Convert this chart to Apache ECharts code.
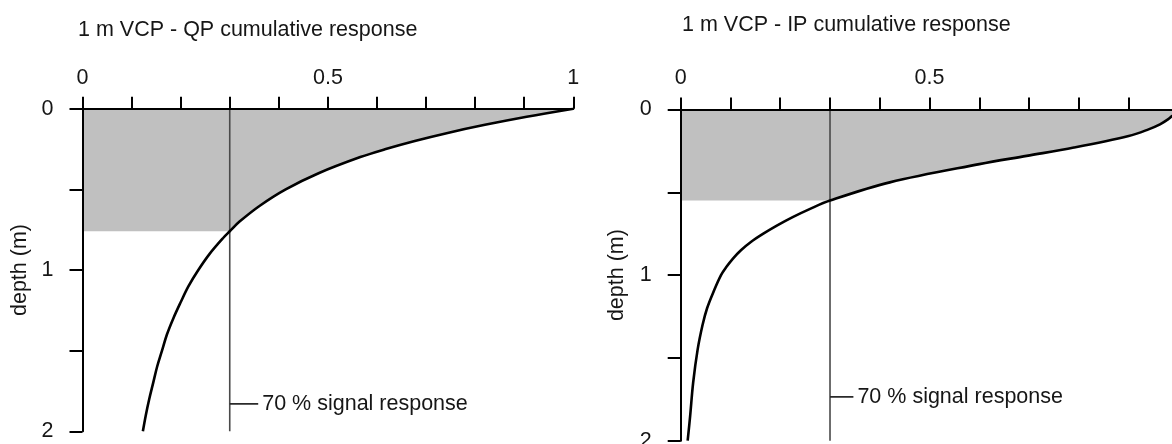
<!DOCTYPE html>
<html>
<head>
<meta charset="utf-8">
<script src="https://cdn.jsdelivr.net/npm/echarts@6/dist/echarts.min.js"></script>
<style>
  html, body { margin: 0; padding: 0; background: #fff; }
  #chart { width: 1172px; height: 444px; }
</style>
</head>
<body>
<div id="chart"></div>
<script>
// Cumulative response vs depth for a 1 m VCP coil geometry
const qpDepth = [0, 0.05, 0.1, 0.15, 0.2, 0.25, 0.3, 0.4, 0.5, 0.6, 0.7, 0.76, 0.8, 0.9, 1.0, 1.1, 1.2, 1.3, 1.4, 1.5, 1.6, 1.7, 1.8, 1.9, 2.0];
const qpResponse = [1.0, 0.905, 0.82, 0.744, 0.677, 0.618, 0.566, 0.481, 0.414, 0.362, 0.32, 0.30, 0.287, 0.259, 0.236, 0.216, 0.2, 0.185, 0.172, 0.162, 0.152, 0.144, 0.136, 0.129, 0.123];

const ipDepth = [0, 0.02, 0.04, 0.06, 0.09, 0.12, 0.16, 0.23, 0.28, 0.33, 0.44, 0.55, 0.6, 0.65, 0.7, 0.75, 0.8, 0.85, 0.9, 0.95, 1.0, 1.1, 1.2, 1.3, 1.45, 1.65, 1.85, 2.0];
const ipResponse = [1.0, 0.995, 0.987, 0.979, 0.963, 0.94, 0.90, 0.79, 0.695, 0.60, 0.42, 0.30, 0.26, 0.225, 0.194, 0.166, 0.141, 0.121, 0.105, 0.092, 0.081, 0.066, 0.053, 0.044, 0.034, 0.025, 0.019, 0.014];

// 70 % signal response: remaining fraction 0.3 and the depth where each curve reaches it
const thresholdResponse = 0.3;
const qpThresholdDepth = 0.76;
const ipThresholdDepth = 0.55;
const thresholdLabel = '70 % signal response';
const labelDepths = [1.83, 1.735];

const panelTitles = ['1 m VCP - QP cumulative response', '1 m VCP - IP cumulative response'];
const depthAxisName = 'depth (m)';
const responseTickLabels = [0, 0.5, 1];
const depthTickLabels = [0, 1, 2];

const FONT = '"Liberation Sans", Arial, Helvetica, sans-serif';
const INK = '#161616';
const FS = 21.5;

const panels = [
  { depth: qpDepth, resp: qpResponse, cut: qpThresholdDepth, labelDepth: labelDepths[0], pointer: 0.058, grid: { left: 82.5, top: 108.7, width: 490.8, height: 322.6 }, title: { left: 78, top: 19 }, nameGap: 51 },
  { depth: ipDepth, resp: ipResponse, cut: ipThresholdDepth, labelDepth: labelDepths[1], pointer: 0.047, grid: { left: 680.7, top: 109.5, width: 497.7, height: 331.2 }, title: { left: 682, top: 14 }, nameGap: 53 }
];

const isTick = (list, v) => list.some(t => Math.abs(t - v) < 1e-6);

const option = {
  animation: false,
  backgroundColor: '#fff',
  title: panels.map((p, i) => ({
    text: panelTitles[i], left: p.title.left, top: p.title.top, padding: 0,
    textStyle: { fontFamily: FONT, fontSize: FS, fontWeight: 'normal', color: INK }
  })),
  grid: panels.map(p => Object.assign({ outerBoundsMode: 'none', containLabel: false }, p.grid)),
  xAxis: panels.map((p, i) => ({
    type: 'value', gridIndex: i, position: 'top', min: 0, max: 1, interval: 0.1, z: 5,
    axisLine: { onZero: false, lineStyle: { color: '#000', width: 2 } },
    axisTick: { length: 12, lineStyle: { color: '#000', width: 2 } },
    splitLine: { show: false },
    axisLabel: {
      margin: 20, fontFamily: FONT, fontSize: FS, color: INK, showMinLabel: true, showMaxLabel: true,
      formatter: v => isTick(responseTickLabels, v) ? String(+v.toFixed(1)) : ''
    }
  })),
  yAxis: panels.map((p, i) => ({
    type: 'value', gridIndex: i, inverse: true, min: 0, max: 2, interval: 0.5, z: 5,
    name: depthAxisName, nameLocation: 'middle', nameGap: p.nameGap,
    nameTextStyle: { fontFamily: FONT, fontSize: FS, color: INK },
    axisLine: { onZero: false, lineStyle: { color: '#000', width: 2 } },
    axisTick: { length: 13, lineStyle: { color: '#000', width: 2 } },
    splitLine: { show: false },
    axisLabel: {
      margin: 29, fontFamily: FONT, fontSize: FS, color: INK, showMinLabel: true, showMaxLabel: true,
      formatter: v => isTick(depthTickLabels, v) ? String(+v.toFixed(1)) : ''
    }
  })),
  series: []
};

panels.forEach((p, i) => {
  const curve = p.depth.map((d, k) => [p.resp[k], d]);
  const upper = curve.filter(pt => pt[1] <= p.cut + 1e-9);
  const fill = { color: '#c0c0c0', opacity: 1 };
  const common = { xAxisIndex: i, yAxisIndex: i, silent: true, symbol: 'none' };

  // shaded part of the response above the 70 % depth
  option.series.push(Object.assign({}, common, {
    type: 'line', z: 1, data: [[0, p.cut], [thresholdResponse, p.cut]],
    lineStyle: { width: 0, opacity: 0 }, areaStyle: fill
  }));
  option.series.push(Object.assign({}, common, {
    type: 'line', z: 1, smooth: 0.35, data: upper,
    lineStyle: { width: 0, opacity: 0 }, areaStyle: fill
  }));
  // 0.3 response marker line
  option.series.push(Object.assign({}, common, {
    type: 'line', z: 2, data: [[thresholdResponse, 0], [thresholdResponse, 2]],
    lineStyle: { color: '#4a4a4a', width: 1.6 }
  }));
  // leader for the annotation
  option.series.push(Object.assign({}, common, {
    type: 'line', z: 2, data: [[thresholdResponse, p.labelDepth], [thresholdResponse + p.pointer, p.labelDepth]],
    lineStyle: { color: '#2a2a2a', width: 1.8 }
  }));
  option.series.push({
    type: 'scatter', xAxisIndex: i, yAxisIndex: i, silent: true, z: 3,
    symbolSize: 0, itemStyle: { opacity: 1, color: INK },
    data: [[thresholdResponse + p.pointer, p.labelDepth]],
    label: {
      show: true, position: 'right', distance: 4, formatter: thresholdLabel, opacity: 1,
      fontFamily: FONT, fontSize: FS, color: INK
    }
  });
  // cumulative response curve
  option.series.push(Object.assign({}, common, {
    type: 'line', z: 4, smooth: 0.35, data: curve,
    lineStyle: { color: '#000', width: 2.6 }
  }));
});

const chart = echarts.init(document.getElementById('chart'), null, { renderer: 'canvas' });
chart.setOption(option);
</script>
</body>
</html>
